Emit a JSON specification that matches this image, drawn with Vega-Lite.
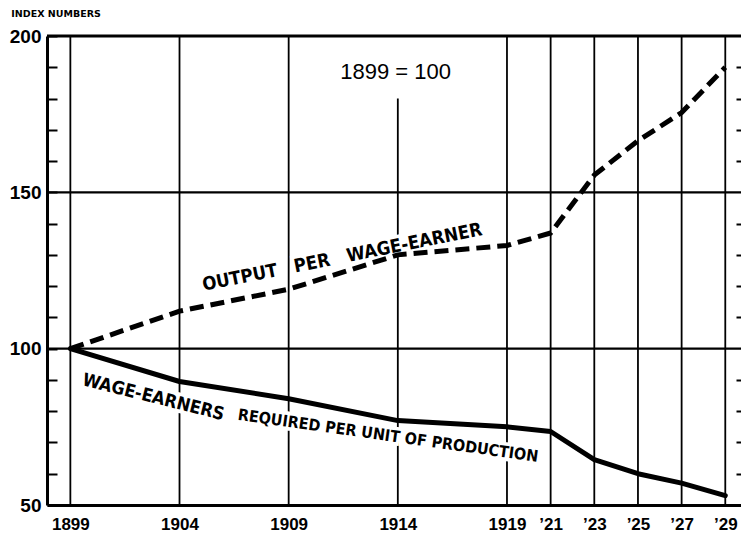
{
  "$schema": "https://vega.github.io/schema/vega-lite/v6.json",
  "width": 694,
  "height": 469,
  "autosize": "none",
  "padding": {"left": 47, "top": 36, "right": 0, "bottom": 36},
  "background": "white",
  "title": {
    "text": "INDEX NUMBERS",
    "anchor": "start",
    "frame": "bounds",
    "offset": 9,
    "dx": 2,
    "font": "DejaVu Sans",
    "fontSize": 9.5,
    "fontWeight": "bold",
    "color": "black"
  },
  "config": {
    "view": {"stroke": null},
    "font": "DejaVu Sans Condensed, DejaVu Sans"
  },
  "datasets": {
    "series": [
      {"year": 1899, "series": "Output per Wage-Earner", "value": 100},
      {"year": 1904, "series": "Output per Wage-Earner", "value": 112},
      {"year": 1909, "series": "Output per Wage-Earner", "value": 119},
      {"year": 1914, "series": "Output per Wage-Earner", "value": 130},
      {"year": 1919, "series": "Output per Wage-Earner", "value": 133},
      {"year": 1921, "series": "Output per Wage-Earner", "value": 137},
      {"year": 1923, "series": "Output per Wage-Earner", "value": 155.5},
      {"year": 1925, "series": "Output per Wage-Earner", "value": 166.5},
      {"year": 1927, "series": "Output per Wage-Earner", "value": 175.5},
      {"year": 1929, "series": "Output per Wage-Earner", "value": 190},
      {"year": 1899, "series": "Wage-Earners Required per Unit of Production", "value": 100},
      {"year": 1904, "series": "Wage-Earners Required per Unit of Production", "value": 89.5},
      {"year": 1909, "series": "Wage-Earners Required per Unit of Production", "value": 84},
      {"year": 1914, "series": "Wage-Earners Required per Unit of Production", "value": 77},
      {"year": 1919, "series": "Wage-Earners Required per Unit of Production", "value": 75},
      {"year": 1921, "series": "Wage-Earners Required per Unit of Production", "value": 73.5},
      {"year": 1923, "series": "Wage-Earners Required per Unit of Production", "value": 64.5},
      {"year": 1925, "series": "Wage-Earners Required per Unit of Production", "value": 60},
      {"year": 1927, "series": "Wage-Earners Required per Unit of Production", "value": 57},
      {"year": 1929, "series": "Wage-Earners Required per Unit of Production", "value": 53}
    ],
    "vgrid": [
      {"year": 1899, "lo": 50, "hi": 200},
      {"year": 1904, "lo": 50, "hi": 200},
      {"year": 1909, "lo": 50, "hi": 200},
      {"year": 1914, "lo": 50, "hi": 180},
      {"year": 1919, "lo": 50, "hi": 200},
      {"year": 1921, "lo": 50, "hi": 200},
      {"year": 1923, "lo": 50, "hi": 200},
      {"year": 1925, "lo": 50, "hi": 200},
      {"year": 1927, "lo": 50, "hi": 200},
      {"year": 1929, "lo": 50, "hi": 200}
    ],
    "hgrid": [
      {"v": 100},
      {"v": 150}
    ],
    "notes": [
      {"id": "base", "text": "1899 = 100", "year": 1913.9, "value": 188.5},
      {"id": "output", "text": "OUTPUT\u00a0\u00a0\u00a0PER\u00a0\u00a0\u00a0WAGE-EARNER", "year": 1911.45, "value": 129.3},
      {"id": "req1", "text": "WAGE-EARNERS", "year": 1902.8, "value": 84.3},
      {"id": "req2", "text": "REQUIRED PER UNIT OF PRODUCTION", "year": 1913.55, "value": 72.1}
    ]
  },
  "layer": [
    {
      "data": {"name": "vgrid"},
      "mark": {"type": "rule", "color": "black", "strokeWidth": 1.8},
      "encoding": {
        "x": {
          "field": "year",
          "type": "quantitative",
          "scale": {"domain": [1897.93, 1929.72], "nice": false, "zero": false},
          "axis": {
            "values": [1899, 1904, 1909, 1914, 1919, 1921, 1923, 1925, 1927, 1929],
            "labelExpr": "datum.value <= 1919 ? '' + datum.value : '\u2019' + (datum.value - 1900)",
            "ticks": false,
            "grid": false,
            "domainWidth": 3,
            "domainColor": "black",
            "labelColor": "black",
            "labelFontSize": 17,
            "labelFontWeight": "bold",
            "labelFont": "Liberation Sans",
            "labelPadding": 11,
            "title": null
          }
        },
        "y": {
          "field": "lo",
          "type": "quantitative",
          "scale": {"domain": [50, 200], "nice": false, "zero": false},
          "axis": {
            "values": [50, 60, 70, 80, 90, 100, 110, 120, 130, 140, 150, 160, 170, 180, 190, 200],
            "labelExpr": "datum.value % 50 === 0 ? '' + datum.value : ''",
            "tickSize": -10,
            "tickWidth": 2,
            "tickColor": "black",
            "domainWidth": 3,
            "domainColor": "black",
            "labelColor": "black",
            "labelFontSize": 19,
            "labelFontWeight": "bold",
            "labelFont": "Liberation Sans",
            "labelPadding": 16,
            "grid": false,
            "title": null
          }
        },
        "y2": {"field": "hi"}
      }
    },
    {
      "data": {"name": "hgrid"},
      "mark": {"type": "rule", "color": "black", "strokeWidth": 2.2},
      "encoding": {
        "y": {
          "field": "v",
          "type": "quantitative",
          "axis": {
            "orient": "right",
            "values": [60, 70, 80, 90, 110, 120, 130, 140, 160, 170, 180, 190],
            "tickSize": -5,
            "tickWidth": 2,
            "tickColor": "black",
            "domain": false,
            "labels": false,
            "grid": false,
            "title": null
          }
        }
      }
    },
    {
      "data": {"values": [{"top": 200}]},
      "mark": {"type": "rule", "color": "black", "strokeWidth": 3},
      "encoding": {
        "y": {"field": "top", "type": "quantitative", "axis": null}
      }
    },
    {
      "data": {"name": "notes"},
      "transform": [{"filter": "datum.id !== 'base'"}],
      "layer": [
        {
          "transform": [{"filter": "datum.id === 'output'"}],
          "mark": {"type": "text", "angle": -11.3, "fontSize": 18.5, "fontWeight": "bold", "stroke": "white", "strokeWidth": 7, "fill": "white"}
        },
        {
          "transform": [{"filter": "datum.id === 'req1'"}],
          "mark": {"type": "text", "angle": 14, "fontSize": 18, "fontWeight": "bold", "stroke": "white", "strokeWidth": 7, "fill": "white"}
        },
        {
          "transform": [{"filter": "datum.id === 'req2'"}],
          "mark": {"type": "text", "angle": 8, "fontSize": 16, "fontWeight": "bold", "stroke": "white", "strokeWidth": 7, "fill": "white"}
        }
      ],
      "encoding": {
        "x": {"field": "year", "type": "quantitative", "axis": null},
        "y": {"field": "value", "type": "quantitative", "axis": null},
        "text": {"field": "text"}
      }
    },
    {
      "data": {"name": "series"},
      "transform": [{"filter": "datum.series === 'Output per Wage-Earner'"}],
      "mark": {"type": "line", "color": "black", "strokeWidth": 5, "strokeDash": [14, 7], "strokeCap": "butt"},
      "encoding": {
        "x": {"field": "year", "type": "quantitative", "axis": null},
        "y": {"field": "value", "type": "quantitative", "axis": null}
      }
    },
    {
      "data": {"name": "series"},
      "transform": [{"filter": "datum.series === 'Wage-Earners Required per Unit of Production'"}],
      "mark": {"type": "line", "color": "black", "strokeWidth": 5, "strokeJoin": "round", "strokeCap": "round"},
      "encoding": {
        "x": {"field": "year", "type": "quantitative", "axis": null},
        "y": {"field": "value", "type": "quantitative", "axis": null}
      }
    },
    {
      "data": {"name": "notes"},
      "layer": [
        {
          "transform": [{"filter": "datum.id === 'base'"}],
          "mark": {"type": "text", "fontSize": 22, "fontWeight": "normal", "color": "black", "font": "Liberation Sans"}
        },
        {
          "transform": [{"filter": "datum.id === 'output'"}],
          "mark": {"type": "text", "angle": -11.3, "fontSize": 18.5, "fontWeight": "bold", "color": "black"}
        },
        {
          "transform": [{"filter": "datum.id === 'req1'"}],
          "mark": {"type": "text", "angle": 14, "fontSize": 18, "fontWeight": "bold", "color": "black"}
        },
        {
          "transform": [{"filter": "datum.id === 'req2'"}],
          "mark": {"type": "text", "angle": 8, "fontSize": 16, "fontWeight": "bold", "color": "black"}
        }
      ],
      "encoding": {
        "x": {"field": "year", "type": "quantitative", "axis": null},
        "y": {"field": "value", "type": "quantitative", "axis": null},
        "text": {"field": "text"}
      }
    }
  ],
  "resolve": {"axis": {"x": "independent", "y": "independent"}}
}
